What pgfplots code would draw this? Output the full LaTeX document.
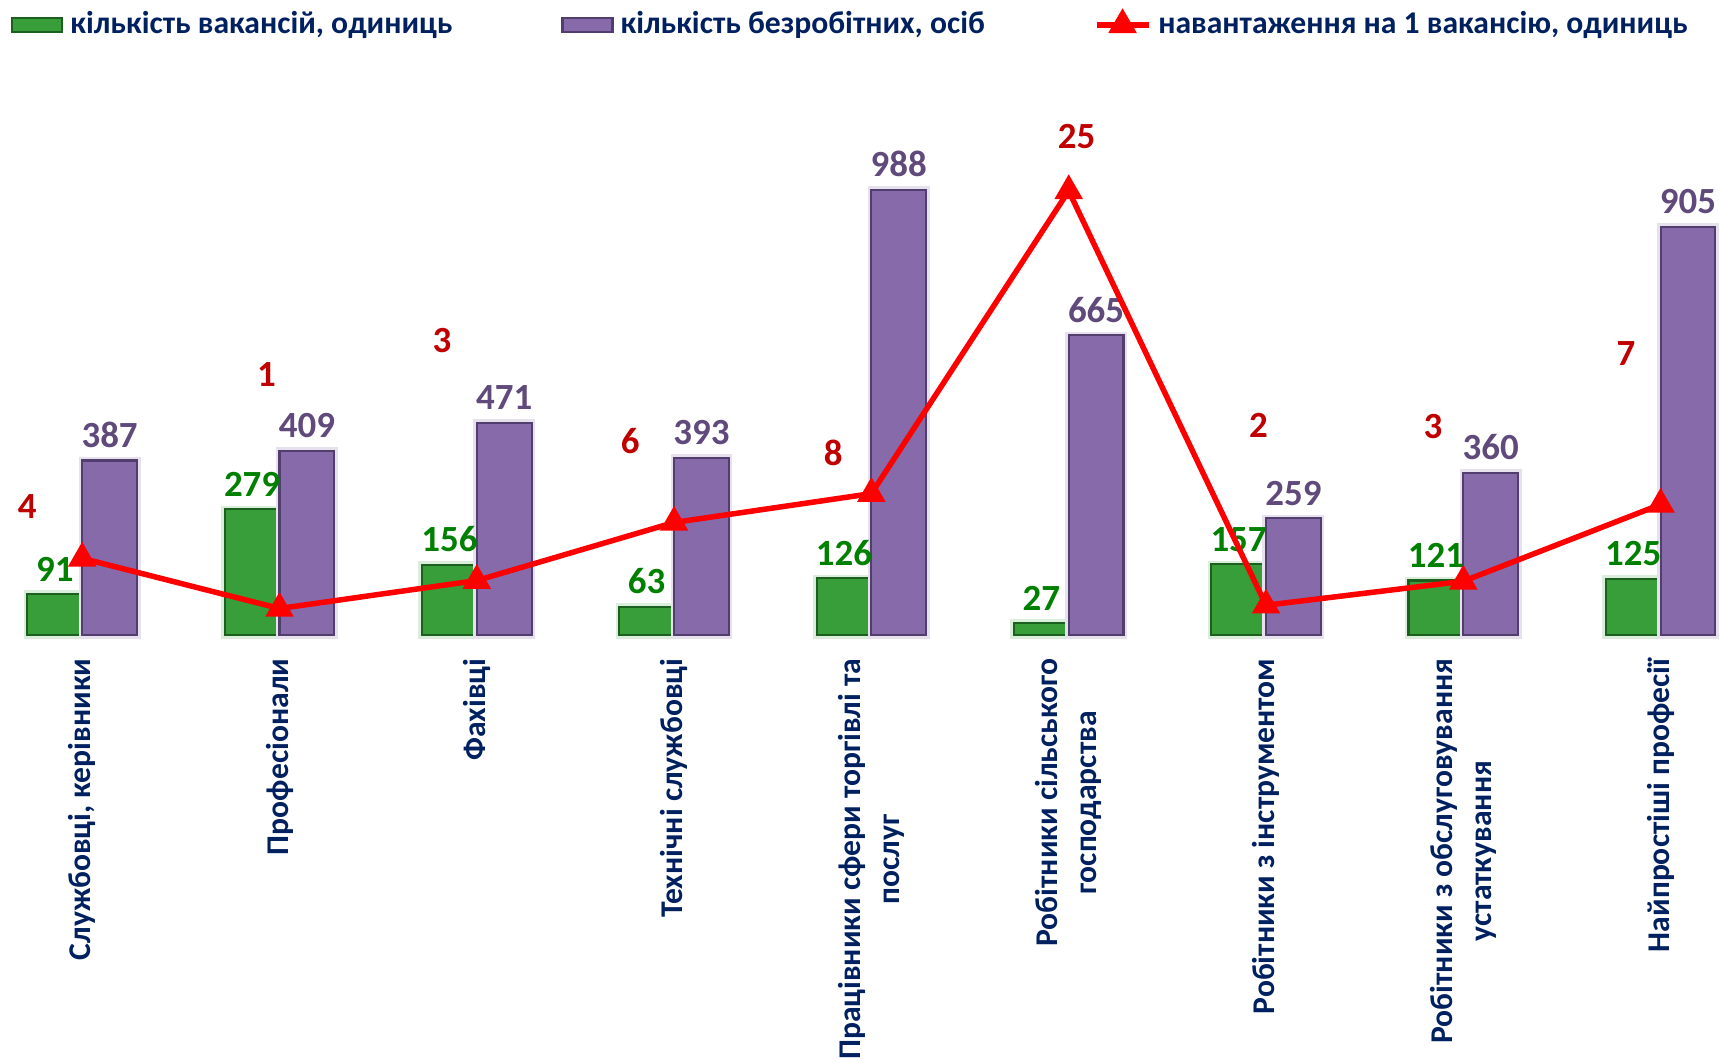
\documentclass[border=0pt]{standalone}
\usepackage{fontspec}
\setmainfont{Carlito}
\usepackage{pgfplots}
\usepackage{pgfplotstable}
\pgfplotsset{compat=1.18}

\definecolor{gbar}{RGB}{56,158,58}
\definecolor{gedge}{RGB}{28,96,32}
\definecolor{pbar}{RGB}{134,106,170}
\definecolor{pedge}{RGB}{82,62,110}
\definecolor{glab}{RGB}{0,128,0}
\definecolor{plab}{RGB}{96,74,123}
\definecolor{rlab}{RGB}{192,0,0}
\definecolor{navy}{RGB}{0,32,96}

% x = group, vac = вакансії, unemp = безробітні, load = навантаження
\pgfplotstableread{
x vac unemp load
0 91  387 4.25
1 279 409 1.47
2 156 471 3.02
3 63  393 6.24
4 126 988 7.84
5 27  665 24.63
6 157 259 1.65
7 121 360 2.98
8 125 905 7.24
}\datatable

% positions of the rounded load labels
\pgfplotstableread{
x y lab
-0.278 7.13 4
0.934 14.43 1
1.823 16.32 3
2.778 10.78 6
3.806 10.11 8
5.040 27.63 25
5.962 11.63 2
6.846 11.57 3
7.824 15.59 7
}\loadlabels

\tikzset{numfont/.style={font=\fontsize{10.5}{12}\selectfont\bfseries}}
\pgfplotsset{
  base/.style={
    at={(0,42.6mm)}, anchor=south west,
    width=171.9mm, height=54.1mm, scale only axis,
    xmin=-0.4166, xmax=8.296, ymin=0,
    clip=false,
    /pgf/number format/assume math mode=true,
  },
  barlegend/.style={legend image code/.code={\draw[##1] (0mm,-0.7mm) rectangle (5mm,0.7mm);}},
  linelegend/.style={legend image code/.code={\draw[mark repeat=2, mark phase=2, ##1]
    plot coordinates {(0mm,0mm) (2.6mm,0mm) (5.2mm,0mm)};}},
  gstyle/.style={fill=gbar, draw=gedge, line width=0.6pt},
  pstyle/.style={fill=pbar, draw=pedge, line width=0.6pt},
  rstyle/.style={red, line width=0.55mm, mark=triangle*, mark size=1.1mm},
}

\begin{document}
\begin{tikzpicture}
\useasboundingbox (0,0) rectangle (171.9mm,106.1mm);
\begin{axis}[
  base, ymax=1200,
  ybar=0pt, bar width=5.48mm,
  axis line style={draw=none}, ytick=\empty,
  xtick=data, major tick length=0pt,
  xticklabels={{Службовці, керівники},{Професіонали},{Фахівці},{Технічні службовці},
    {Працівники сфери торгівлі та\\послуг},{Робітники сільського\\господарства},
    {Робітники з інструментом},{Робітники з обслуговування\\устаткування},{Найпростіші професії}},
  xticklabel style={rotate=90, anchor=east, align=center, inner sep=0pt,
    font=\fontsize{9}{11}\selectfont\bfseries, text=navy},
  xticklabel shift=2.3mm,
  nodes near coords,
]
\addplot[gstyle, preaction={draw=gbar!18, line width=2pt},
  nodes near coords style={numfont, text=glab}]
  table[x=x, y=vac] {\datatable};
\addplot[pstyle, preaction={draw=pbar!20, line width=2pt},
  nodes near coords style={numfont, text=plab}]
  table[x=x, y=unemp] {\datatable};
\end{axis}

\begin{axis}[base, ymax=30, hide axis,
  legend columns=3,
  legend style={at={(0.0,1.128)}, anchor=west, draw=none, fill=none,
    font=\fontsize{9}{10}\selectfont\bfseries, text=navy,
    /tikz/every even column/.append style={column sep=10.2mm}},
]
\addlegendimage{gstyle, barlegend}
\addlegendentry{кількість вакансій, одиниць}
\addlegendimage{pstyle, barlegend}
\addlegendentry{кількість безробітних, осіб}
\addlegendimage{rstyle, linelegend}
\addlegendentry{навантаження на 1 вакансію, одиниць}
\addplot[rstyle, forget plot] table[x=x, y=load] {\datatable};
\addplot[draw=none, mark=none, forget plot, nodes near coords, point meta=explicit symbolic,
  nodes near coords style={numfont, text=rlab, anchor=center}]
  table[x=x, y=y, meta=lab] {\loadlabels};
\end{axis}
\end{tikzpicture}
\end{document}
